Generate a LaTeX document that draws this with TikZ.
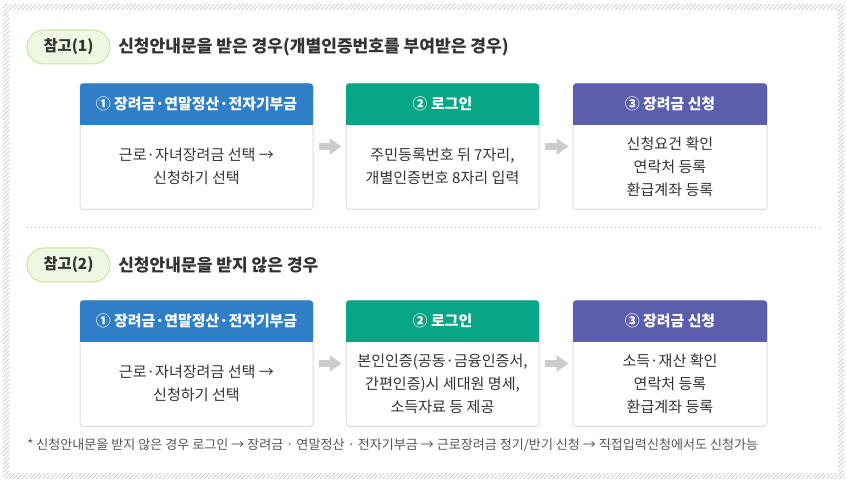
\documentclass[tikz,border=0pt]{standalone}
\usepackage{fontspec}
\setmainfont{Noto Sans CJK KR}
\usetikzlibrary{arrows.meta,patterns.meta}
\definecolor{hdrblue}{HTML}{2F7EC6}
\definecolor{hdrgreen}{HTML}{05A585}
\definecolor{hdrpurple}{HTML}{5A5EAD}
\definecolor{pillfill}{HTML}{EEF7E2}
\definecolor{pillline}{HTML}{C6E59B}
\definecolor{boxline}{HTML}{DCDCDC}
\definecolor{arrowgray}{HTML}{CCCCCC}
\definecolor{hatchc}{HTML}{C3C8D4}
\definecolor{txt}{HTML}{333333}
\definecolor{notec}{HTML}{555555}
\definecolor{sepc}{HTML}{BBBBBB}
\tikzset{
  boxframe/.style={draw=boxline, line width=0.75pt, fill=white, rounded corners=2.5pt, inner sep=0pt, minimum height=126*0.75pt},
  hdrbg/.style={rounded corners=2.5pt, inner sep=0pt, minimum height=41*0.75pt},
  hdrtext/.style={text=white, font=\fontsize{11.2}{13}\selectfont\bfseries, inner sep=0pt},
  bodytext/.style={text=txt, align=center, font=\fontsize{11.3}{17.25}\selectfont, inner sep=0pt},
  pill/.style={draw=pillline, line width=0.75pt, fill=pillfill, rounded corners=12.75pt, minimum width=83*0.75pt, minimum height=34*0.75pt, inner sep=0pt, text=txt, font=\fontsize{11.5}{13}\selectfont\bfseries},
  titletext/.style={text=txt, font=\fontsize{12.8}{15}\selectfont\bfseries, inner sep=0pt, anchor=west},
  flowarrow/.style={draw=arrowgray, line width=7*0.75pt, shorten <=5*0.75pt, shorten >=4*0.75pt, -{Triangle[length=12*0.75pt, width=16*0.75pt]}},
}
% name, center x, top y, width, colour, header, body
\newcommand{\mkbox}[7]{%
  \node[boxframe, minimum width=#4*0.75pt, anchor=north] (#1) at (#2,#3) {};
  \node[hdrbg, fill=#5, minimum width=#4*0.75pt, anchor=north] (#1h) at (#2,#3) {};
  \fill[#5] (#1h.west) rectangle (#1h.south east);
  \node[hdrtext] (#1l) at (#1h.center) {#6};
  \node[bodytext] (#1t) at (#2,#3+83.5) {#7};
}
\begin{document}
\begin{tikzpicture}[x=0.75pt,y=-0.75pt]
\useasboundingbox (0,0) rectangle (847,484);
% hatched frame
\fill[pattern={Lines[angle=45,distance=2.2pt,line width=0.5pt]}, pattern color=hatchc, even odd rule]
  (3,4) rectangle (844,479) (9,10) rectangle (838,473);

% section 1
\node[pill] (p1) at (68.5,47) {참고(1)};
\node[titletext] (ti1) at (118,47) {신청안내문을 받은 경우(개별인증번호를 부여받은 경우)};

\mkbox{a1}{196.5}{83}{233}{hdrblue}{① 장려금·연말정산·전자기부금}{근로·자녀장려금 선택 →\\신청하기 선택}
\mkbox{a2}{442.5}{83}{193}{hdrgreen}{② 로그인}{주민등록번호 뒤 7자리,\\개별인증번호 8자리 입력}
\mkbox{a3}{670}{83}{194}{hdrpurple}{③ 장려금 신청}{신청요건 확인\\연락처 등록\\환급계좌 등록}
\draw[flowarrow] (a1) -- (a2);
\draw[flowarrow] (a2) -- (a3);

% separator
\coordinate (s1) at (27,228);
\coordinate (s2) at (821,228);
\draw[sepc, line width=0.75pt, dash pattern=on 0.75pt off 2.25pt] (s1) -- (s2);

% section 2
\node[pill] (p2) at (68.5,265) {참고(2)};
\node[titletext] (ti2) at (118,265) {신청안내문을 받지 않은 경우};

\mkbox{b1}{196.5}{300}{233}{hdrblue}{① 장려금·연말정산·전자기부금}{근로·자녀장려금 선택 →\\신청하기 선택}
\mkbox{b2}{442.5}{300}{193}{hdrgreen}{② 로그인}{본인인증(공동·금융인증서,\\간편인증)시 세대원 명세,\\소득자료 등 제공}
\mkbox{b3}{670}{300}{194}{hdrpurple}{③ 장려금 신청}{소득·재산 확인\\연락처 등록\\환급계좌 등록}
\draw[flowarrow] (b1) -- (b2);
\draw[flowarrow] (b2) -- (b3);

\node[text=notec, font=\fontsize{9.8}{12}\selectfont, inner sep=0pt, anchor=west] (note) at (27,445)
  {* 신청안내문을 받지 않은 경우 로그인 → 장려금 · 연말정산 · 전자기부금 → 근로장려금 정기/반기 신청 → 직접입력신청에서도 신청가능};
\end{tikzpicture}
\end{document}
